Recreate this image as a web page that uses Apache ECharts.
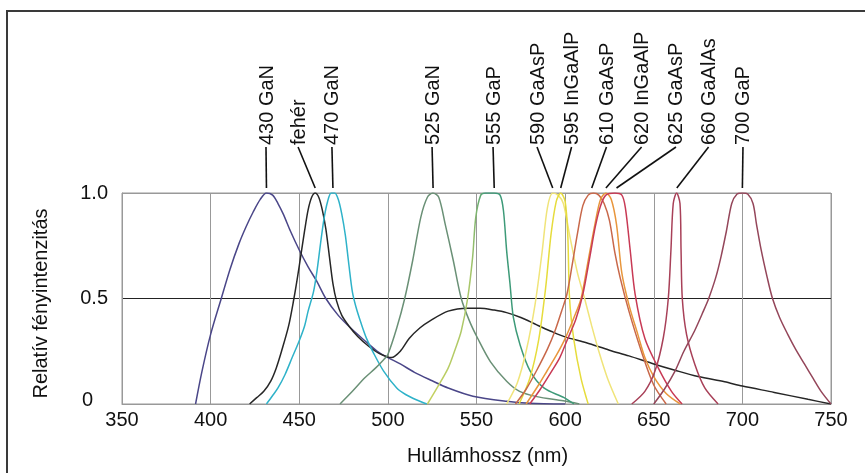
<!DOCTYPE html>
<html>
<head>
<meta charset="utf-8">
<script src="https://cdn.jsdelivr.net/npm/echarts@6/dist/echarts.min.js"></script>
<style>
    html, body { margin: 0; padding: 0; background: #fff; }
    #main { width: 865px; height: 473px; }
</style>
</head>
<body>
<div id="main"></div>
<script>
// 曲线名称（LED 类型）
var names = ['430 GaN', 'fehér', '470 GaN', '525 GaN', '555 GaP', '590 GaAsP',
    '595 InGaAlP', '610 GaAsP', '620 InGaAlP', '625 GaAsP', '660 GaAlAs', '700 GaP'];

// 各曲线的峰值波长（nm），引线指向这里
var peakNm = [431.5, 459, 469, 525.5, 560, 593, 597.5, 615, 623, 629, 663, 700];

// 光谱数据 [波长 nm, 相对强度]
var gan430 = [[391.5, 0], [395, 0.15], [400, 0.33], [406, 0.5], [411, 0.64], [416, 0.76], [420, 0.84],
    [424, 0.91], [428, 0.97], [431.5, 1.0], [435, 0.99], [438, 0.95], [441, 0.9], [445, 0.82], [450, 0.73],
    [455, 0.65], [460, 0.58], [465, 0.5], [472, 0.42], [479, 0.36], [487, 0.3], [494, 0.25], [500, 0.22],
    [507, 0.19], [515, 0.15], [525, 0.11], [534, 0.076], [548, 0.037], [567, 0.013], [580, 0.004], [600, 0]];
var feher = [[422, 0], [426, 0.03], [430, 0.06], [434, 0.11], [437, 0.17], [440, 0.25], [444, 0.37],
    [447, 0.5], [449, 0.6], [451, 0.71], [453, 0.82], [455, 0.92], [457, 0.98], [459, 1.0], [461, 0.98],
    [463, 0.92], [465, 0.83], [467, 0.7], [469, 0.57], [471, 0.49], [474, 0.42], [478, 0.37], [483, 0.32],
    [489, 0.275], [495, 0.24], [502, 0.22], [507, 0.25], [512, 0.31], [518, 0.36], [524, 0.395], [534, 0.44],
    [545, 0.454], [552, 0.454], [560, 0.445], [567, 0.433], [575, 0.41], [584, 0.375], [592, 0.345],
    [600, 0.318], [612, 0.29], [625, 0.255], [636, 0.228], [650, 0.19], [662, 0.16], [675, 0.13],
    [690, 0.105], [700, 0.085], [718, 0.055], [737, 0.022], [750, 0]];
var gan470 = [[431.5, 0], [435, 0.04], [438, 0.076], [442, 0.14], [446, 0.22], [450, 0.3], [453, 0.37],
    [455, 0.44], [458, 0.53], [460, 0.63], [462, 0.76], [464, 0.88], [466, 0.96], [468, 1.0], [470, 1.0],
    [472, 0.97], [474, 0.9], [476, 0.8], [478, 0.66], [480, 0.53], [482, 0.46], [485, 0.38], [488, 0.31],
    [492, 0.24], [497.6, 0.156], [505, 0.076], [510, 0.045], [516, 0.02], [522, 0]];
var gan525 = [[473, 0], [480, 0.06], [487, 0.124], [493, 0.17], [497.6, 0.21], [500, 0.235], [505, 0.36],
    [509.5, 0.5], [514, 0.68], [518.6, 0.886], [522.3, 0.98], [525.4, 1.0], [528.7, 0.98], [532.3, 0.854],
    [536.9, 0.68], [541.4, 0.5], [546, 0.394], [550.5, 0.314], [557.9, 0.2], [567, 0.108], [574.3, 0.06],
    [584, 0.035], [599, 0.015], [608, 0]];
var gap555 = [[522.3, 0], [528, 0.08], [534, 0.17], [538, 0.26], [541.4, 0.346], [545, 0.5], [547.8, 0.695],
    [549.6, 0.886], [552.4, 0.99], [555, 1.0], [560, 1.0], [563.3, 0.99], [565.2, 0.917], [567, 0.727],
    [568.9, 0.57], [570.8, 0.41], [574.6, 0.28], [580.3, 0.156], [588, 0.076], [599.4, 0.03], [605, 0]];
var gaasp590 = [[567, 0], [573, 0.1], [578, 0.25], [583, 0.47], [587, 0.72], [590, 0.93], [593, 1.0],
    [596, 0.99], [599, 0.95], [603, 0.78], [607, 0.62], [611, 0.5], [615, 0.37], [619, 0.25], [624, 0.12], [630, 0]];
var ingaalp595 = [[574, 0], [580, 0.12], [585, 0.3], [589, 0.55], [592, 0.8], [595, 0.96], [597.5, 1.0],
    [600, 0.96], [601.5, 0.8], [602.5, 0.5], [605, 0.3], [609, 0.12], [613, 0]];
var gaasp610 = [[572, 0], [578, 0.07], [584, 0.16], [590, 0.26], [594, 0.34], [598, 0.44], [601, 0.52],
    [604, 0.66], [607, 0.81], [610, 0.94], [613, 0.99], [616, 1.0], [619, 0.99], [622, 0.95], [625, 0.87],
    [628, 0.72], [631, 0.6], [636, 0.44], [643, 0.25], [650, 0.09], [657, 0]];
var ingaalp620 = [[578, 0], [585, 0.09], [590, 0.16], [595, 0.23], [600, 0.31], [605, 0.41], [609, 0.5],
    [613, 0.68], [617, 0.86], [620, 0.97], [623, 1.0], [626, 0.97], [629, 0.85], [632, 0.62], [636, 0.47],
    [641, 0.33], [645, 0.22], [650, 0.13], [657, 0.05], [665, 0]];
var gaasp625 = [[580, 0], [586, 0.07], [592, 0.15], [597, 0.22], [601, 0.3], [606, 0.4], [610, 0.52],
    [614, 0.7], [617, 0.84], [620, 0.94], [623, 0.99], [628, 1.0], [632, 0.99], [634, 0.93], [636.7, 0.73],
    [639.5, 0.52], [645, 0.31], [652.6, 0.17], [660, 0.06], [666, 0]];
var gaalas660 = [[637.6, 0], [645, 0.06], [650.7, 0.156], [655.4, 0.314], [658.2, 0.5], [659.7, 0.73],
    [661, 0.95], [662.9, 1.0], [664.8, 0.95], [665.4, 0.73], [666.1, 0.5], [668.5, 0.33], [673.2, 0.187],
    [678.8, 0.076], [686.3, 0]];
var gap700 = [[650, 0], [656, 0.07], [662, 0.156], [667, 0.25], [673, 0.346], [678, 0.44], [681, 0.5],
    [685, 0.6], [688, 0.7], [691, 0.82], [694, 0.95], [697, 0.995], [700, 1.0], [703, 0.995], [706, 0.95],
    [708, 0.85], [710.6, 0.73], [714, 0.6], [717, 0.5], [721, 0.41], [725.6, 0.33], [730, 0.26], [735, 0.19],
    [740, 0.12], [744.4, 0.06], [750, 0]];

var curves = [gan430, feher, gan470, gan525, gap555, gaasp590, ingaalp595,
    gaasp610, ingaalp620, gaasp625, gaalas660, gap700];

var colors = ['#4a4688', '#262626', '#2eb2c9', '#6a9076', '#3d9a78', '#f0e47a', '#e6dc3c',
    '#c8684a', '#e8963c', '#c83a55', '#a84058', '#94465a'];

var FONT = '"Liberation Sans", Arial, sans-serif';

var chart = echarts.init(document.getElementById('main'));

var series = [];
for (var i = 0; i < curves.length; i++) {
    var color = colors[i];
    if (names[i] === '555 GaP') {
        // 左侧偏黄绿
        color = new echarts.graphic.LinearGradient(0, 0, 1, 0, [
            {offset: 0, color: '#c9d35e'},
            {offset: 0.3, color: '#a8c66a'},
            {offset: 0.4, color: '#3d9a78'},
            {offset: 1, color: '#3d9a78'}
        ]);
    }
    series.push({
        name: names[i],
        type: 'line',
        data: curves[i],
        smooth: 0.3,
        showSymbol: false,
        lineStyle: {color: color, width: 1.5},
        z: 3
    });
}

var option = {
    animation: false,
    backgroundColor: '#fff',
    grid: {
        left: 122,
        right: 34,
        top: 193,
        bottom: 69,
        show: true,
        borderColor: '#999',
        borderWidth: 1
    },
    xAxis: {
        type: 'value',
        min: 350,
        max: 750,
        interval: 50,
        name: 'Hullámhossz (nm)',
        nameLocation: 'middle',
        nameGap: 42,
        nameTextStyle: {fontSize: 20, color: '#111', fontFamily: FONT, padding: [0, 0, 0, 22]},
        axisLine: {show: true, lineStyle: {color: '#999'}},
        axisTick: {show: false},
        axisLabel: {fontSize: 20, color: '#111', fontFamily: FONT, margin: 6},
        splitLine: {show: true, lineStyle: {color: '#999', width: 1}}
    },
    yAxis: {
        type: 'value',
        min: 0,
        max: 1,
        interval: 0.5,
        name: 'Relatív fényintenzitás',
        nameLocation: 'middle',
        nameGap: 71,
        nameTextStyle: {fontSize: 20, color: '#111', fontFamily: FONT, padding: [0, 10, 0, 0]},
        axisLine: {show: true, lineStyle: {color: '#999'}},
        axisTick: {show: false},
        axisLabel: {
            fontSize: 20,
            color: '#111',
            fontFamily: FONT,
            margin: 14,
            formatter: function (v) {
                return v === 0 ? '{z|0}' : v.toFixed(1);
            },
            rich: {
                z: {fontSize: 20, color: '#111', fontFamily: FONT, padding: [0, 15, 8, 0]}
            }
        },
        splitLine: {show: true, lineStyle: {color: ['#999', '#222', '#999'], width: 1}}
    },
    series: series
};
chart.setOption(option);

// 标签位置（波长刻度上的横向位置），引线从标签连到峰顶
var labelAt = [431.8, 449.9, 469, 525.5, 559.9, 584.7, 604.2, 623.9, 643.7, 663.1, 681.5, 700.9];

var graphics = [{
    type: 'rect',
    shape: {x: 7, y: 11, width: 900, height: 500},
    style: {fill: 'none', stroke: '#3a3a3a', lineWidth: 2},
    silent: true
}];
for (var j = 0; j < names.length; j++) {
    var labelPt = chart.convertToPixel({seriesIndex: 0}, [labelAt[j], 1]);
    var peakPt = chart.convertToPixel({seriesIndex: 0}, [peakNm[j], 1]);
    graphics.push({
        type: 'text',
        x: labelPt[0],
        y: 145,
        rotation: Math.PI / 2,
        style: {
            text: names[j],
            font: '20px ' + FONT,
            fill: '#111',
            align: 'left',
            verticalAlign: 'middle',
            textAlign: 'left',
            textVerticalAlign: 'middle'
        },
        z: 10
    });
    graphics.push({
        type: 'line',
        shape: {x1: labelPt[0] - 1, y1: 147, x2: peakPt[0], y2: peakPt[1] - 5},
        style: {stroke: '#111', lineWidth: 1.6},
        z: 10
    });
}
chart.setOption({graphic: graphics});
</script>
</body>
</html>
